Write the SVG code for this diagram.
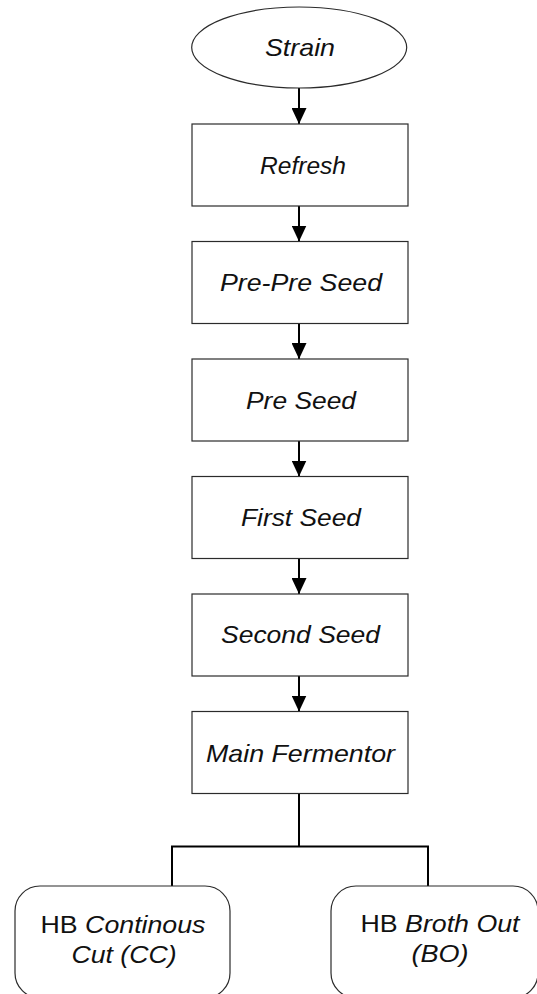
<svg xmlns="http://www.w3.org/2000/svg" width="537" height="994" viewBox="0 0 537 994">
  <style>
    .box { fill: #ffffff; stroke: #2b2b2b; stroke-width: 1.2; }
    .lbl { font-family: "Liberation Sans", Arial, sans-serif; font-size: 24px; font-style: italic; fill: #111111; text-anchor: middle; }
    .up { font-style: normal; }
    .wire { fill: none; stroke: #000000; stroke-width: 2; }
    .arrow { stroke: #000000; stroke-width: 2; marker-end: url(#head); }
  </style>
  <defs>
    <!-- filled triangular head, drawn along +x so orient="auto" points it down the line -->
    <marker id="head" markerWidth="16" markerHeight="15" refX="16" refY="7.5" orient="auto" markerUnits="userSpaceOnUse" viewBox="0 0 16 15">
      <path d="M0,0 L16,7.5 L0,15 Z" fill="#000000"/>
    </marker>
  </defs>
  <rect width="537" height="994" fill="#ffffff"/>

  <g id="connectors">
    <line class="arrow" x1="299" y1="88" x2="299" y2="124"/>
    <line class="arrow" x1="299" y1="206" x2="299" y2="241.5"/>
    <line class="arrow" x1="299" y1="323.5" x2="299" y2="359"/>
    <line class="arrow" x1="299" y1="441" x2="299" y2="476.5"/>
    <line class="arrow" x1="299" y1="558.5" x2="299" y2="594"/>
    <line class="arrow" x1="299" y1="676" x2="299" y2="711.5"/>
    <path class="wire" d="M299,793.5 V846.5 M172,886 V846.5 H428 V886"/>
  </g>

  <g id="strain">
    <ellipse class="box" cx="299.2" cy="47.5" rx="107.5" ry="40.5"/>
    <text class="lbl" x="300" y="56" textLength="70" lengthAdjust="spacingAndGlyphs">Strain</text>
  </g>
  <g id="refresh">
    <rect class="box" x="192" y="124" width="216" height="82"/>
    <text class="lbl" x="303" y="173.5" textLength="86" lengthAdjust="spacingAndGlyphs">Refresh</text>
  </g>
  <g id="pre-pre-seed">
    <rect class="box" x="192" y="241.5" width="216" height="82"/>
    <text class="lbl" x="301" y="291" textLength="162" lengthAdjust="spacingAndGlyphs">Pre-Pre Seed</text>
  </g>
  <g id="pre-seed">
    <rect class="box" x="192" y="359" width="216" height="82"/>
    <text class="lbl" x="301" y="408.5" textLength="110" lengthAdjust="spacingAndGlyphs">Pre Seed</text>
  </g>
  <g id="first-seed">
    <rect class="box" x="192" y="476.5" width="216" height="82"/>
    <text class="lbl" x="301" y="526" textLength="120" lengthAdjust="spacingAndGlyphs">First Seed</text>
  </g>
  <g id="second-seed">
    <rect class="box" x="192" y="594" width="216" height="82"/>
    <text class="lbl" x="300.5" y="643" textLength="159" lengthAdjust="spacingAndGlyphs">Second Seed</text>
  </g>
  <g id="main-fermentor">
    <rect class="box" x="192" y="711.5" width="216" height="82"/>
    <text class="lbl" x="300.5" y="761.5" textLength="189" lengthAdjust="spacingAndGlyphs">Main Fermentor</text>
  </g>

  <g id="continous-cut">
    <rect class="box" x="15" y="886" width="215" height="112" rx="25" ry="25"/>
    <text class="lbl" x="123" y="933" textLength="165" lengthAdjust="spacingAndGlyphs"><tspan class="up">HB </tspan>Continous</text>
    <text class="lbl" x="124" y="963" textLength="105" lengthAdjust="spacingAndGlyphs">Cut (CC)</text>
  </g>
  <g id="broth-out">
    <rect class="box" x="331" y="886" width="207" height="112" rx="25" ry="25"/>
    <text class="lbl" x="440" y="932" textLength="159" lengthAdjust="spacingAndGlyphs"><tspan class="up">HB </tspan>Broth Out</text>
    <text class="lbl" x="440" y="962" textLength="57" lengthAdjust="spacingAndGlyphs">(BO)</text>
  </g>
</svg>
